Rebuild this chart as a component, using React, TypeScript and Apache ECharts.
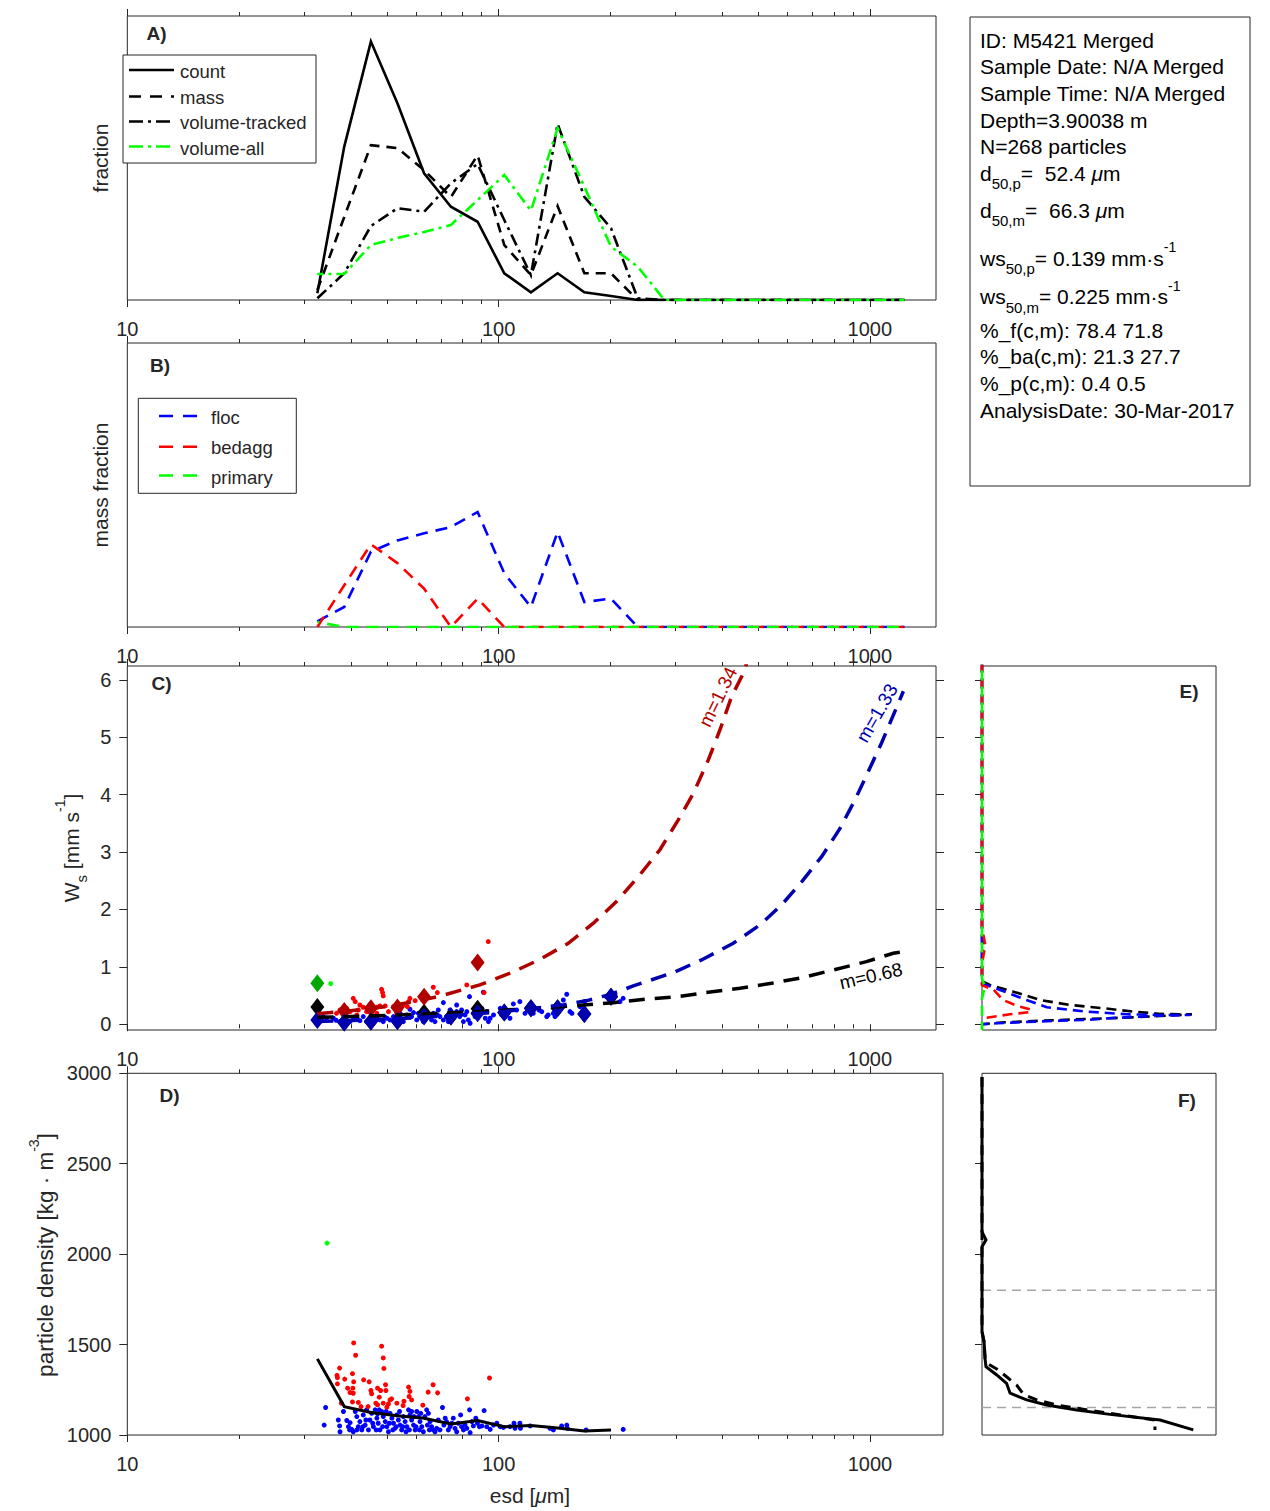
import React, { useEffect, useRef } from 'react';
import * as echarts from 'echarts';

// ---------- DATA ----------
const BINS = [32.5, 38.4, 45.3, 53.4, 63.0, 74.4, 87.8, 103.6, 122.2, 144.2, 170.2, 200.8, 237, 279.6, 330, 389, 459, 542, 640, 755, 890, 1050, 1240];

// Panel A (fractions)
const countFrac = [0.0047, 0.108, 0.182, 0.1385, 0.0892, 0.0657, 0.0551, 0.0188, 0.0054, 0.0188, 0.0054, 0.0028, 0, 0, 0, 0, 0, 0, 0, 0, 0, 0, 0];
const massFrac = [0.007, 0.0585, 0.109, 0.107, 0.0915, 0.0725, 0.102, 0.0387, 0.0176, 0.0662, 0.0188, 0.0188, 0, 0, 0, 0, 0, 0, 0, 0, 0, 0, 0];
const volTrackedFrac = [0.0012, 0.0188, 0.0521, 0.0646, 0.0622, 0.0822, 0.0958, 0.0563, 0.0176, 0.124, 0.0727, 0.0505, 0.0012, 0, 0, 0, 0, 0, 0, 0, 0, 0, 0];
const volAllFrac = [0.0183, 0.0183, 0.0387, 0.0437, 0.0479, 0.0528, 0.0704, 0.088, 0.0629, 0.121, 0.0798, 0.0375, 0.0235, 0, 0, 0, 0, 0, 0, 0, 0, 0, 0];

// Panel B (mass fraction)
const flocMass = [0.004, 0.0141, 0.053, 0.061, 0.066, 0.0704, 0.081, 0.0378, 0.0141, 0.0669, 0.0176, 0.020, 0, 0, 0, 0, 0, 0, 0, 0, 0, 0, 0];
const bedaggMass = [0, 0.0294, 0.0582, 0.045, 0.027, 0, 0.020, 0, 0, 0, 0, 0, 0, 0, 0, 0, 0, 0, 0, 0, 0, 0, 0];
const primaryMass = [0.0035, 0, 0, 0, 0, 0, 0, 0, 0, 0, 0, 0, 0, 0, 0, 0, 0, 0, 0, 0, 0, 0, 0];

// Panel C particles [esd, ws]
const cFlocDots = [
  [71.0, 0.377], [83.5, 0.481], [91.0, 0.557], [77.1, 0.336], [79.5, 0.249], [83.8, 0.017], [80.4, 0.046], [71.0, 0.075], [72.4, 0.133], [74.8, 0.191],
  [64.0, 0.18], [59.0, 0.203], [57.7, 0.261], [101, 0.278], [105.2, 0.191], [109.6, 0.354], [114.1, 0.394], [128.5, 0.249], [136, 0.162], [141.9, 0.133],
  [149.4, 0.423], [152.6, 0.522], [157.6, 0.191], [170.3, 0.394], [195.1, 0.481], [201.6, 0.551], [205.8, 0.51], [216.5, 0.452], [146.4, 0.278], [140.4, 0.191],
  [117.8, 0.191], [94.9, 0.104], [92.9, 0.22], [96.9, 0.162], [68.4, 0.162], [66.0, 0.075], [61.4, 0.133], [54.3, 0.104], [50.0, 0.104], [46.0, 0.075],
  [42.3, 0.063], [39.8, 0.046], [37.4, 0.046], [34.4, 0.104], [33.0, 0.046], [33.7, 0.133], [35.9, 0.104], [39.0, 0.133], [41.5, 0.104], [44.1, 0.046],
  [47.0, 0.133], [48.9, 0.046], [51.0, 0.075], [53.2, 0.104], [55.4, 0.046], [56.6, 0.162], [60.2, 0.075], [62.7, 0.046], [65.4, 0.133], [67.4, 0.046],
  [69.5, 0.133], [73.2, 0.046], [75.5, 0.104], [78.6, 0.133], [81.2, 0.162], [82.9, 0.075], [86.4, 0.133], [89.2, 0.191], [92.1, 0.104], [93.9, 0.046],
  [102, 0.162], [107.3, 0.104], [111.8, 0.249], [124, 0.191], [130.7, 0.22], [134.8, 0.133], [143.4, 0.249], [155.7, 0.22], [165.7, 0.307], [212.3, 0.394],
  [38.2, 0.075], [40.6, 0.104], [43.2, 0.133], [45.0, 0.104], [47.9, 0.075], [52.1, 0.133], [54.3, 0.191], [58.3, 0.133], [60.8, 0.191], [63.3, 0.22],
  [66.7, 0.191], [68.8, 0.249], [74.0, 0.249], [77.1, 0.22], [82.1, 0.22], [85.5, 0.191], [90.1, 0.278], [36.5, 0.07], [44.8, 0.09], [49.5, 0.12]
];
const cBedaggDots = [
  [40.6, 0.452], [41.1, 0.394], [48.4, 0.609], [48.7, 0.551], [48.9, 0.493], [57.7, 0.452], [57.2, 0.394], [59.6, 0.411], [66.7, 0.644], [68.4, 0.551],
  [82.1, 0.685], [91.4, 0.551], [37.4, 0.249], [39.0, 0.278], [39.8, 0.22], [41.9, 0.249], [43.2, 0.296], [44.1, 0.22], [46.0, 0.261], [47.0, 0.191],
  [47.9, 0.319], [49.5, 0.319], [50.5, 0.22], [52.1, 0.307], [54.3, 0.261], [55.4, 0.336], [36.6, 0.191], [38.2, 0.162], [41.5, 0.162], [53.2, 0.191],
  [47.0, 0.296], [56.8, 0.307], [42.3, 0.336], [93.8, 1.44]
];
const cPrimaryDots = [[35.3, 0.708]];

// Panel C bin medians [esd, ws]
const cAllMedian = [[32.5, 0.30], [38.4, 0.03], [45.3, 0.046], [53.4, 0.058], [63.0, 0.20], [74.4, 0.133], [87.8, 0.272], [103.6, 0.203], [122.2, 0.278], [144.2, 0.278], [170.2, 0.18], [200.8, 0.481]];
const cBedaggMedian = [[38.4, 0.232], [45.3, 0.278], [53.4, 0.29], [63.0, 0.481], [87.8, 1.074]];
const cFlocMedian = [[32.5, 0.075], [38.4, 0.03], [45.3, 0.046], [53.4, 0.058], [63.0, 0.133], [74.4, 0.133], [87.8, 0.191], [103.6, 0.203], [122.2, 0.278], [144.2, 0.278], [170.2, 0.18], [200.8, 0.481]];
const cPrimaryMedian = [[32.5, 0.714]];

// Panel C fit curves [esd, ws]
const fitBedagg = [[32.5, 0.185], [40, 0.235], [50, 0.31], [60, 0.40], [70, 0.495], [89, 0.685], [108.4, 0.9], [129.3, 1.13], [154, 1.41], [180, 1.76], [208, 2.14], [237.9, 2.57], [272, 3.04], [304.8, 3.56], [334.6, 4.02], [367, 4.60], [394.8, 5.13], [424.4, 5.71], [456, 6.11], [480, 6.55]];
const fitFloc = [[32.5, 0.05], [40, 0.065], [50, 0.09], [63, 0.12], [80, 0.165], [100, 0.215], [125, 0.28], [150, 0.34], [175, 0.42], [200, 0.52], [230.6, 0.667], [295.5, 0.90], [352, 1.12], [428.6, 1.41], [505.8, 1.73], [578.6, 2.08], [655, 2.48], [741.4, 2.92], [830.8, 3.41], [912, 3.91], [990, 4.40], [1075, 4.90], [1168, 5.45], [1231, 5.8]];
const fitAll = [[32.5, 0.12], [40, 0.135], [50, 0.155], [63, 0.18], [80, 0.21], [100, 0.24], [125, 0.28], [165.7, 0.33], [203.7, 0.376], [247.8, 0.435], [301.8, 0.48], [367, 0.557], [446.8, 0.627], [544, 0.714], [655, 0.81], [796.6, 0.946], [979, 1.09], [1156, 1.237], [1231, 1.265]];

// Panel D particles [esd, density]
const dFlocDots = [
  [34.2, 1152], [33.9, 1055], [37.4, 1018], [37.0, 1083], [37.3, 1050], [38.2, 1130], [39.0, 1080], [39.8, 1068], [40.2, 1031], [40.6, 1018],
  [41.1, 1130], [41.5, 1102], [41.9, 1046], [42.3, 1074], [42.8, 1028], [43.2, 1111], [43.7, 1055], [44.1, 1139], [44.6, 1028], [45.0, 1083],
  [45.5, 1120], [46.0, 1046], [46.5, 1139], [47.0, 1093], [47.4, 1065], [47.9, 1028], [48.4, 1130], [48.9, 1102], [49.5, 1074], [50.0, 1046],
  [50.5, 1018], [51.0, 1120], [51.6, 1093], [52.1, 1065], [52.6, 1037], [53.2, 1111], [53.7, 1083], [54.3, 1055], [54.8, 1028], [55.4, 1102],
  [56.0, 1074], [56.6, 1046], [57.2, 1139], [57.7, 1111], [58.3, 1083], [59.0, 1055], [59.6, 1028], [60.2, 1130], [60.8, 1102], [61.4, 1074],
  [62.1, 1046], [62.7, 1018], [63.3, 1102], [64.0, 1139], [64.7, 1120], [65.4, 1074], [66.0, 1046], [66.7, 1028], [67.4, 1018], [68.1, 1037],
  [68.8, 1083], [69.5, 1028], [70.6, 1152], [71.2, 1055], [71.8, 1093], [72.4, 1074], [73.2, 1028], [74.0, 1046], [74.8, 1065], [75.5, 1093],
  [76.3, 1037], [77.1, 1018], [77.9, 1065], [79.0, 1111], [79.5, 1046], [80.4, 1028], [81.2, 1055], [82.1, 1037], [83.5, 1139], [83.8, 1013],
  [84.7, 1074], [85.5, 1050], [86.8, 1093], [87.7, 1065], [88.8, 1046], [90.1, 1050], [91.4, 1135], [92.9, 1046], [94.9, 1031], [96.9, 1055],
  [98.9, 1065], [101, 1046], [103, 1042], [107.3, 1046], [110, 1065], [110.7, 1037], [114.1, 1065], [114.5, 1037], [121.6, 1050], [137.5, 1037],
  [140.4, 1028], [147.8, 1050], [152.6, 1055], [153.2, 1037], [172, 1028], [216.5, 1031], [39.4, 1046], [39.7, 1028], [41.5, 1028], [43.1, 1046],
  [43.9, 1083], [45.8, 1065], [46.8, 1028], [47.2, 1117], [47.7, 1139], [48.7, 1046], [49.8, 1130], [50.8, 1065], [51.9, 1028], [53.0, 1046],
  [54.1, 1130], [55.2, 1046], [56.3, 1018], [57.5, 1028], [58.3, 1130], [59.2, 1102], [59.9, 1046], [61.2, 1028], [61.7, 1120], [64.3, 1055], [65.1, 1028]
];
const dBedaggDots = [
  [40.7, 1509], [48.4, 1491], [41.2, 1441], [48.9, 1426], [37.3, 1370], [49.1, 1368], [36.7, 1330], [36.8, 1317], [40.4, 1339], [36.8, 1283],
  [38.5, 1309], [40.7, 1294], [43.3, 1305], [44.8, 1294], [39.2, 1259], [40.5, 1259], [39.8, 1235], [40.6, 1231], [47.2, 1259], [48.1, 1246],
  [49.6, 1278], [49.7, 1246], [45.3, 1246], [45.5, 1228], [47.7, 1209], [51, 1194], [51.5, 1200], [53.2, 1176], [55.6, 1187], [57.2, 1265],
  [57.7, 1241], [57.4, 1213], [58.3, 1194], [55.3, 1163], [62.5, 1165], [64.6, 1237], [66.6, 1278], [68.5, 1233], [94.5, 1315], [82.4, 1200],
  [37.7, 1176], [41.9, 1180], [42.6, 1157], [44.5, 1157], [46.7, 1176], [47.2, 1167], [50, 1154], [50.5, 1172], [48.9, 1176], [40.4, 1183]
];
const dPrimaryDots = [[34.5, 2061]];
const dMeanBins = [32.5, 38.4, 45.3, 53.4, 63.0, 74.4, 87.8, 103.6, 122.2, 144.2, 170.2, 200.8];
const dMeanDensity = [1421, 1157, 1124, 1106, 1093, 1061, 1080, 1046, 1052, 1039, 1022, 1028];

// Panel E: distribution of ws [relative density, ws]
const eAll = [[0, 6.3], [0, 1.45], [0.012, 1.35], [0, 1.25], [0, 0.75], [0.034, 0.685], [0.134, 0.568], [0.248, 0.423], [0.376, 0.336], [0.519, 0.279], [0.647, 0.22], [0.761, 0.18], [0.897, 0.172], [0.64, 0.12], [0.3, 0.07], [0.08, 0.03], [0, 0]];
const eFloc = [[0, 6.3], [0, 0.76], [0, 0.714], [0.077, 0.598], [0.19, 0.423], [0.277, 0.296], [0.448, 0.22], [0.619, 0.174], [0.76, 0.162], [0.89, 0.162], [0.75, 0.15], [0.547, 0.105], [0.447, 0.075], [0.333, 0.063], [0.19, 0.04], [0.063, 0.017], [0, 0]];
const eBedagg = [[0, 6.3], [0, 1.68], [0.014, 1.38], [0, 1.05], [0, 0.68], [0.05, 0.6], [0.09, 0.423], [0.147, 0.324], [0.2, 0.267], [0.212, 0.249], [0.2, 0.21], [0.12, 0.174], [0.006, 0.105], [0, 0.08]];
const ePrimary = [[0, 6.3], [0, 0.8], [0.012, 0.66], [0.006, 0.55], [0, 0.45], [0, -0.1]];

// Panel F: distribution of density [relative density, particle density]
const fAll = [[0, 2980], [0, 2124], [0.017, 2079], [0, 2041], [0, 1571], [0.009, 1516], [0.013, 1424], [0.017, 1378], [0.063, 1332], [0.105, 1286], [0.12, 1231], [0.191, 1194], [0.276, 1166], [0.405, 1138], [0.547, 1114], [0.761, 1083], [0.903, 1028]];
const fMass = [[0, 2980], [0, 1571], [0.009, 1516], [0.013, 1424], [0.03, 1390], [0.063, 1365], [0.105, 1322], [0.148, 1276], [0.177, 1225], [0.234, 1194], [0.319, 1166], [0.476, 1133], [0.739, 1083], [0.739, 1028]];
const fThresholds = [1800, 1152];

// Ticks
const MAJOR_X = [10, 100, 1000];
const MINOR_X = [20, 30, 40, 50, 60, 70, 80, 90, 200, 300, 400, 500, 600, 700, 800, 900];
const WS_TICKS = [0, 1, 2, 3, 4, 5, 6];
const RHO_TICKS = [1000, 1500, 2000, 2500, 3000];

// Text box lines
const infoLines = [
  'ID: M5421 Merged',
  'Sample Date: N/A Merged',
  'Sample Time: N/A Merged',
  'Depth=3.90038 m',
  'N=268 particles'
];
const infoStats = ['%_f(c,m): 78.4 71.8', '%_ba(c,m): 21.3 27.7', '%_p(c,m): 0.4 0.5', 'AnalysisDate: 30-Mar-2017'];

// ---------- STYLE ----------
const FONT = '"Liberation Sans", Arial, Helvetica, sans-serif';
const AX = '#262626';
const DRED = '#B00000';
const DBLUE = '#0000B0';
const DGREEN = '#00A800';

function logXAxes(gridIndex: number, max: number) {
  const base: any = {
    type: 'log', logBase: 10, min: 10, max, gridIndex,
    splitLine: { show: false }, axisLine: { show: false }, minorTick: { show: false }, axisPointer: { show: false }
  };
  const tick = (len: number, vals: number[]) => ({ show: true, inside: false, length: len, customValues: vals, lineStyle: { color: AX, width: 1 } });
  return [
    { ...base, position: 'bottom', axisTick: tick(7, MAJOR_X),
      axisLabel: { show: true, customValues: MAJOR_X, formatter: (v: number) => String(Math.round(v)), fontSize: 20, color: AX, fontFamily: FONT, margin: 19 } },
    { ...base, position: 'bottom', axisTick: tick(4, MINOR_X), axisLabel: { show: false } },
    { ...base, position: 'top', axisTick: tick(7, MAJOR_X), axisLabel: { show: false } },
    { ...base, position: 'top', axisTick: tick(4, MINOR_X), axisLabel: { show: false } }
  ];
}

function lineSeries(xi: number, yi: number, data: any[], color: string, width: number, dash: any, extra: any = {}) {
  return {
    type: 'line', xAxisIndex: xi, yAxisIndex: yi, data, symbol: 'none', showSymbol: false, silent: true,
    lineStyle: { color, width, type: dash, cap: 'butt', join: 'miter', ...(extra.lineStyle || {}) },
    itemStyle: { color }, emphasis: { disabled: true }, z: extra.z ?? 2
  };
}
function scatterSeries(xi: number, yi: number, data: any[], color: string, symbol: string, size: any, z = 3) {
  return {
    type: 'scatter', xAxisIndex: xi, yAxisIndex: yi, data, symbol, symbolSize: size, silent: true,
    itemStyle: { color, opacity: 1 }, emphasis: { disabled: true }, z
  };
}
const pairs = (xs: number[], ys: number[]) => xs.map((x, i) => [x, ys[i]]);

function txt(x: number, y: number, text: string, o: any = {}) {
  return { type: 'text', x, y, z: 100, silent: true, rotation: o.rotation || 0,
    style: { text, fontSize: 21, fontFamily: FONT, fill: '#000', align: 'left', verticalAlign: 'middle', ...(o.style || {}) } };
}
function ln(x1: number, y1: number, x2: number, y2: number, stroke: string, lineWidth: number, lineDash?: number[]) {
  return { type: 'line', z: 100, silent: true, shape: { x1, y1, x2, y2 }, style: { stroke, lineWidth, lineDash: lineDash || null } };
}

const RICH_BASE = (size: number, fill: string) => ({
  m: { fontSize: size, fontFamily: FONT, fill, lineHeight: 36 },
  i: { fontSize: size, fontFamily: FONT, fill, lineHeight: 36, fontStyle: 'italic' },
  s: { fontSize: 15, fontFamily: FONT, fill, lineHeight: 14, verticalAlign: 'bottom' },
  p: { fontSize: 14, fontFamily: FONT, fill, lineHeight: 14, verticalAlign: 'top' }
});

function buildOption() {
  const DASH_A = [10, 7];
  const DASHDOT_A = [12, 5, 3, 5];
  const DASH_B = [12, 8];
  const DASH_C = [16, 10];
  const DASH_E = [10, 6];

  const grids = [
    { left: 127.3, top: 16, width: 808.7, height: 284 },
    { left: 127.3, top: 343, width: 808.7, height: 284 },
    { left: 127.3, top: 666, width: 808.7, height: 364 },
    { left: 127.3, top: 1073.3, width: 815.7, height: 361.7 },
    { left: 982, top: 666, width: 234, height: 364 },
    { left: 982, top: 1073.3, width: 234, height: 361.7 }
  ].map(g => ({ ...g, show: true, borderColor: AX, borderWidth: 1, backgroundColor: 'transparent', containLabel: false, outerBoundsMode: 'none' }));

  const xAxis: any[] = [
    ...logXAxes(0, 1507),
    ...logXAxes(1, 1507),
    ...logXAxes(2, 1507),
    ...logXAxes(3, 1573),
    { type: 'value', gridIndex: 4, min: 0, max: 1, show: false },
    { type: 'value', gridIndex: 5, min: 0, max: 1, show: false }
  ];

  const hiddenY = (gi: number, max: number) => ({ type: 'value', gridIndex: gi, min: 0, max, axisLine: { show: false }, axisTick: { show: false }, axisLabel: { show: false }, splitLine: { show: false } });
  const yTick = (vals: number[], inside: boolean, len: number) => ({ show: true, inside, length: len, customValues: vals, lineStyle: { color: AX, width: 1 } });
  const yAxis: any[] = [
    hiddenY(0, 0.2),
    hiddenY(1, 0.2),
    { type: 'value', gridIndex: 2, min: -0.1, max: 6.24, position: 'left', axisLine: { show: false }, splitLine: { show: false },
      axisTick: yTick(WS_TICKS, false, 8),
      axisLabel: { customValues: WS_TICKS, formatter: (v: number) => String(v), fontSize: 20, color: AX, fontFamily: FONT, margin: 16 } },
    { type: 'value', gridIndex: 2, min: -0.1, max: 6.24, position: 'right', axisLine: { show: false }, splitLine: { show: false },
      axisTick: yTick(WS_TICKS, false, 8), axisLabel: { show: false } },
    { type: 'value', gridIndex: 3, min: 1000, max: 3000, position: 'left', axisLine: { show: false }, splitLine: { show: false },
      axisTick: yTick(RHO_TICKS, false, 8),
      axisLabel: { customValues: RHO_TICKS, formatter: (v: number) => String(v), fontSize: 20, color: AX, fontFamily: FONT, margin: 16 } },
    { type: 'value', gridIndex: 4, min: -0.1, max: 6.24, position: 'right', axisLine: { show: false }, splitLine: { show: false },
      axisTick: yTick(WS_TICKS, true, 7), axisLabel: { show: false } },
    { type: 'value', gridIndex: 5, min: 1000, max: 3000, position: 'right', axisLine: { show: false }, splitLine: { show: false },
      axisTick: yTick([1500, 2000, 2500], true, 7), axisLabel: { show: false } }
  ];

  const XA = 0, XB = 4, XC = 8, XD = 12, XE = 16, XF = 17;
  const DIAMOND = [14, 18];
  const DOT = 5;
  const series: any[] = [
    // A
    lineSeries(XA, 0, pairs(BINS, countFrac), '#000', 2.6, 'solid'),
    lineSeries(XA, 0, pairs(BINS, massFrac), '#000', 2.6, DASH_A),
    lineSeries(XA, 0, pairs(BINS, volTrackedFrac), '#000', 2.6, DASHDOT_A),
    lineSeries(XA, 0, pairs(BINS, volAllFrac), '#00FF00', 2.6, DASHDOT_A, { lineStyle: { dashOffset: 6 } }),
    // B
    lineSeries(XB, 1, pairs(BINS, flocMass), '#0000FF', 2.6, DASH_B),
    lineSeries(XB, 1, pairs(BINS, bedaggMass), '#FF0000', 2.6, DASH_B),
    lineSeries(XB, 1, pairs(BINS, primaryMass), '#00FF00', 2.6, DASH_B, { lineStyle: { dashOffset: 10 } }),
    // C
    scatterSeries(XC, 2, cFlocDots, '#0000FF', 'circle', DOT),
    scatterSeries(XC, 2, cBedaggDots, '#FF0000', 'circle', DOT),
    scatterSeries(XC, 2, cPrimaryDots, '#00FF00', 'circle', DOT),
    scatterSeries(XC, 2, cAllMedian, '#000000', 'diamond', DIAMOND, 4),
    scatterSeries(XC, 2, cBedaggMedian, DRED, 'diamond', DIAMOND, 4),
    scatterSeries(XC, 2, cFlocMedian, DBLUE, 'diamond', DIAMOND, 4),
    scatterSeries(XC, 2, cPrimaryMedian, DGREEN, 'diamond', DIAMOND, 4),
    lineSeries(XC, 2, fitAll, '#000', 3.5, DASH_C, { z: 5 }),
    lineSeries(XC, 2, fitFloc, DBLUE, 3.5, DASH_C, { z: 5 }),
    lineSeries(XC, 2, fitBedagg, DRED, 3.5, DASH_C, { z: 5 }),
    // D
    scatterSeries(XD, 4, dFlocDots, '#0000FF', 'circle', DOT),
    scatterSeries(XD, 4, dBedaggDots, '#FF0000', 'circle', DOT),
    scatterSeries(XD, 4, dPrimaryDots, '#00FF00', 'circle', DOT),
    lineSeries(XD, 4, pairs(dMeanBins, dMeanDensity), '#000', 3, 'solid', { z: 5 }),
    // E
    lineSeries(XE, 5, eAll, '#000', 2.6, DASH_E),
    lineSeries(XE, 5, eFloc, '#0000FF', 2.6, DASH_E),
    lineSeries(XE, 5, eBedagg, '#FF0000', 2.6, DASH_E),
    lineSeries(XE, 5, ePrimary, '#00FF00', 2.6, DASH_E, { lineStyle: { dashOffset: 8 } }),
    // F
    ...fThresholds.map(t => lineSeries(XF, 6, [[0, t], [1, t]], '#A6A6A6', 1.5, [9, 6])),
    lineSeries(XF, 6, fMass, '#000', 3, [10, 7]),
    lineSeries(XF, 6, fAll, '#000', 3, 'solid')
  ];

  const rich20 = RICH_BASE(21, '#000');
  const rich21 = RICH_BASE(21, AX);
  const richD = RICH_BASE(22.5, AX);
  const infoY = [40, 66.7, 93.3, 120, 146.7];
  const statY = [330, 356.7, 383.3, 410];
  const LEG = { fontSize: 18.5, fill: AX };

  const graphic: any[] = [
    // text box
    { type: 'rect', z: 90, silent: true, shape: { x: 970, y: 17, width: 280, height: 469 }, style: { fill: '#fff', stroke: AX, lineWidth: 1 } },
    ...infoLines.map((t, i) => txt(980, infoY[i], t)),
    txt(980, 173.3, '{m|d}{s|50,p}{m|=  52.4 }{i|μ}{m|m}', { style: { rich: rich20 } }),
    txt(980, 210, '{m|d}{s|50,m}{m|=  66.3 }{i|μ}{m|m}', { style: { rich: rich20 } }),
    txt(980, 258.3, '{m|ws}{s|50,p}{m|= 0.139 mm·s}{p|-1}', { style: { rich: rich20 } }),
    txt(980, 296.7, '{m|ws}{s|50,m}{m|= 0.225 mm·s}{p|-1}', { style: { rich: rich20 } }),
    ...infoStats.map((t, i) => txt(980, statY[i], t)),

    // legend A
    { type: 'rect', z: 95, silent: true, shape: { x: 123, y: 55, width: 193, height: 108 }, style: { fill: '#fff', stroke: AX, lineWidth: 1 } },
    ln(129, 70, 174, 70, '#000', 2.6),
    ln(129, 96.5, 174, 96.5, '#000', 2.6, [12, 9]),
    ln(129, 121.5, 174, 121.5, '#000', 2.6, [14, 5, 3, 5]),
    ln(129, 146.5, 174, 146.5, '#00FF00', 2.6, [14, 5, 3, 5]),
    txt(180, 71.5, 'count', { style: LEG }),
    txt(180, 97.5, 'mass', { style: LEG }),
    txt(180, 122.5, 'volume-tracked', { style: LEG }),
    txt(180, 148.5, 'volume-all', { style: LEG }),

    // legend B
    { type: 'rect', z: 95, silent: true, shape: { x: 138.3, y: 398.3, width: 158, height: 95 }, style: { fill: '#fff', stroke: AX, lineWidth: 1 } },
    ln(159, 416, 197, 416, '#0000FF', 2.6, [14, 10]),
    ln(159, 446.7, 197, 446.7, '#FF0000', 2.6, [14, 10]),
    ln(159, 475.5, 197, 475.5, '#00FF00', 2.6, [14, 10]),
    txt(211, 417.3, 'floc', { style: LEG }),
    txt(211, 447.3, 'bedagg', { style: LEG }),
    txt(211, 477, 'primary', { style: LEG }),

    // panel letters
    txt(146.5, 33, 'A)', { style: { fontSize: 19, fontWeight: 'bold', fill: AX } }),
    txt(150, 365, 'B)', { style: { fontSize: 19, fontWeight: 'bold', fill: AX } }),
    txt(151.5, 683.5, 'C)', { style: { fontSize: 19, fontWeight: 'bold', fill: AX } }),
    txt(159.5, 1095.5, 'D)', { style: { fontSize: 19, fontWeight: 'bold', fill: AX } }),
    txt(1179.5, 691.5, 'E)', { style: { fontSize: 19, fontWeight: 'bold', fill: AX } }),
    txt(1178, 1100, 'F)', { style: { fontSize: 19, fontWeight: 'bold', fill: AX } }),

    // axis names
    txt(100, 158, 'fraction', { rotation: Math.PI / 2, style: { fontSize: 21, fill: AX, align: 'center' } }),
    txt(100, 485, 'mass fraction', { rotation: Math.PI / 2, style: { fontSize: 21, fill: AX, align: 'center' } }),
    txt(71, 848, '{m|W}{s|s}{m| [mm s}{p|-1}{m|]}', { rotation: Math.PI / 2, style: { align: 'center', rich: rich21 } }),
    txt(45, 1255, '{m|particle density [kg · m}{p|-3}{m|]}', { rotation: Math.PI / 2, style: { align: 'center', rich: richD } }),
    txt(530, 1495, '{m|esd [}{i|μ}{m|m]}', { style: { align: 'center', rich: rich21 } }),

    // fit labels
    txt(718, 697, 'm=1.34', { rotation: 64 * Math.PI / 180, style: { fontSize: 19, fill: DRED, align: 'center' } }),
    txt(877, 713, 'm=1.33', { rotation: 60 * Math.PI / 180, style: { fontSize: 19, fill: DBLUE, align: 'center' } }),
    txt(871, 976, 'm=0.68', { rotation: 13 * Math.PI / 180, style: { fontSize: 19, fill: '#000', align: 'center' } })
  ];

  return {
    animation: false,
    backgroundColor: '#ffffff',
    textStyle: { fontFamily: FONT },
    grid: grids,
    xAxis,
    yAxis,
    series,
    graphic
  };
}

export default function App() {
  const ref = useRef<HTMLDivElement>(null);
  useEffect(() => {
    if (!ref.current) return;
    const chart = echarts.init(ref.current, undefined, { renderer: 'svg' });
    chart.setOption(buildOption() as any);
    return () => chart.dispose();
  }, []);
  return <div ref={ref} style={{ position: 'absolute', left: 0, top: 0, width: 1270, height: 1511, background: '#fff' }} />;
}
